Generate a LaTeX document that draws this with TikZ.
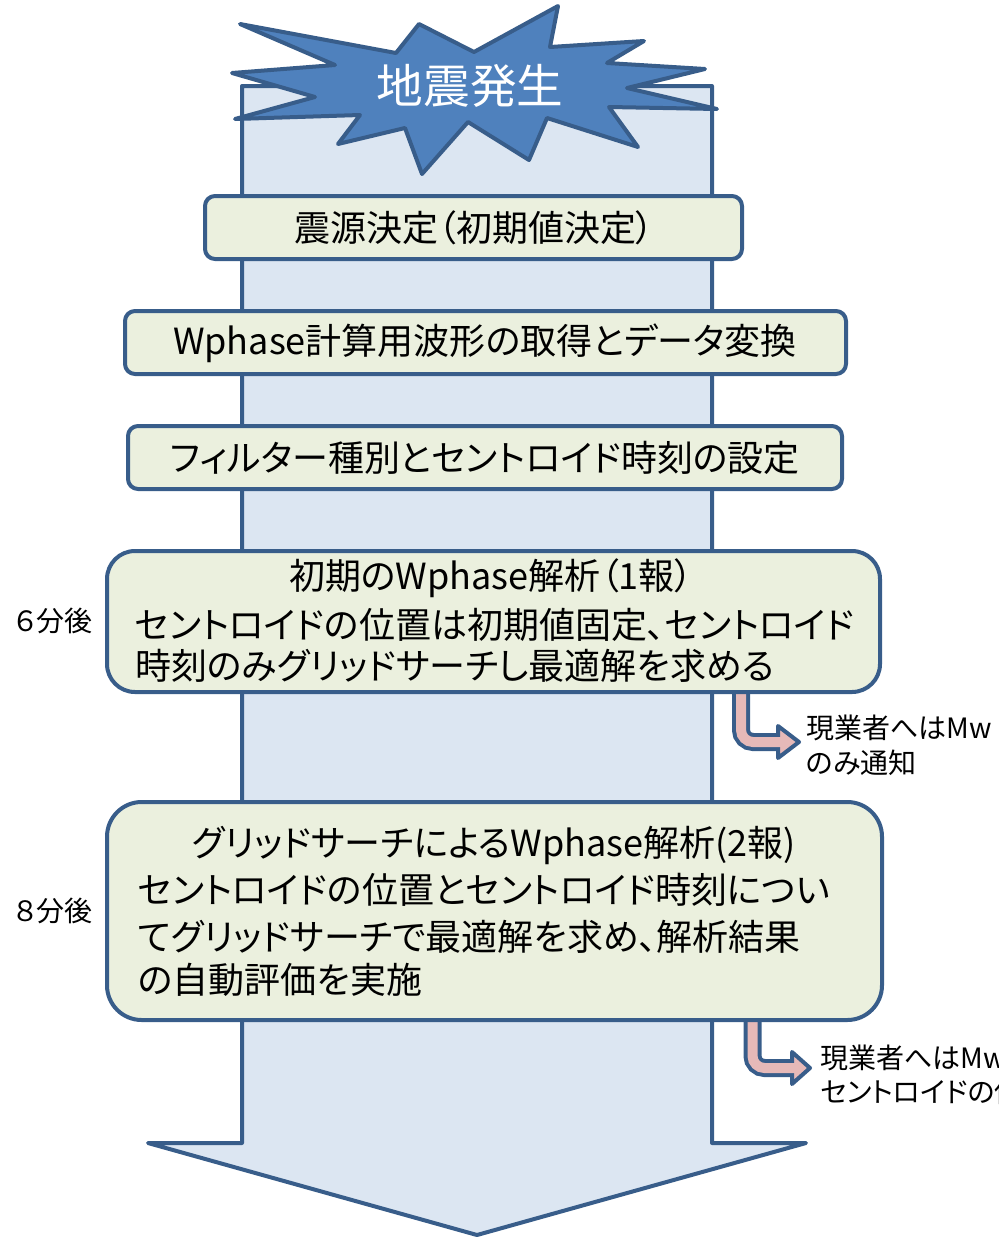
\documentclass[tikz,border=0pt]{standalone}
\usepackage{fontspec}
\setmainfont[RawFeature=+palt]{Noto Sans CJK JP}
\newfontfamily\plainjp{Noto Sans CJK JP}
\definecolor{bluedark}{RGB}{56,93,138}
\definecolor{arrowfill}{RGB}{220,230,242}
\definecolor{starfill}{RGB}{79,129,189}
\definecolor{boxfill}{RGB}{235,240,222}
\definecolor{pinkband}{RGB}{230,185,184}
\begin{document}
\begin{tikzpicture}[x=0.75pt,y=-0.75pt,
  bord/.style={draw=bluedark, line width=3pt, line join=round},
  stepbox/.style={bord, fill=boxfill, rounded corners=7.5pt, inner sep=0pt},
  txt/.style={inner sep=0pt, font=\fontsize{27pt}{32pt}\selectfont},
  sidetxt/.style={inner sep=0pt, anchor=west, font=\fontsize{21pt}{25pt}\selectfont},
  band/.style={line width=13.5pt, draw=bluedark, rounded corners=9pt},
  bandin/.style={line width=7.5pt, draw=pinkband, rounded corners=9pt}]
\useasboundingbox (0,0) rectangle (999,1239);
\clip (0,0) rectangle (999,1239);
% big arrow
\draw[bord, fill=arrowfill] (242,86) -- (712,86) -- (712,1143) -- (806,1143) -- (477,1235) -- (148,1143) -- (242,1143) -- cycle;
% star
\draw[bord, fill=starfill] (240,24) -- (396,53) -- (419,24) -- (474,52) -- (558,6) -- (550,47) -- (644,41) -- (607,63) -- (705,69) -- (627,88) -- (717,109) -- (609,107) -- (638,147) -- (547,118) -- (529,160) -- (468,122) -- (422,174) -- (405,128) -- (338,144) -- (360,115) -- (235,119) -- (315,97) -- (232,73) -- (335,65) -- cycle;
\node[inner sep=0pt, text=white, font=\plainjp\fontsize{35pt}{40pt}\selectfont] (star) at (470,86) {地震発生};
% bent arrows
\coordinate (b1s) at (741,680);
\coordinate (b1c) at (741,742);
\coordinate (b1e) at (778,742);
\draw[band] (b1s) -- (b1c) -- (b1e);
\draw[bord, fill=pinkband] (778,726) -- (799,742) -- (778,758) -- cycle;
\draw[bandin] (b1s) -- (b1c) -- (782,742);
\coordinate (b2s) at (752.5,1005);
\coordinate (b2c) at (752.5,1068);
\coordinate (b2e) at (792,1068);
\draw[band] (b2s) -- (b2c) -- (b2e);
\draw[bord, fill=pinkband] (792,1052) -- (810,1068) -- (792,1084) -- cycle;
\draw[bandin] (b2s) -- (b2c) -- (796,1068);
% boxes
\node[stepbox, minimum width=402.75pt, minimum height=47.25pt] (box1) at (473.5,227.5) {};
\node[txt] (t1) at (474,228) {震源決定（初期値決定）};
\node[stepbox, minimum width=540.75pt, minimum height=47.25pt] (box2) at (485.5,342.5) {};
\node[txt] (t2) at (485,343) {Wphase計算用波形の取得とデータ変換};
\node[stepbox, minimum width=535.5pt, minimum height=47.25pt] (box3) at (485,457.5) {};
\node[txt] (t3) at (485,458) {フィルター種別とセントロイド時刻の設定};
\node[stepbox, rounded corners=21pt, minimum width=579.75pt, minimum height=105.75pt] (box4) at (493.5,621.5) {};
\node[txt] (t4a) at (491,578) {初期のWphase解析（1報）};
\node[txt, anchor=west] (t4b) at (135,625) {セントロイドの位置は初期値固定、セントロイド};
\node[txt, anchor=west] (t4c) at (135,666) {時刻のみグリッドサーチし最適解を求める};
\node[stepbox, rounded corners=26pt, minimum width=581.25pt, minimum height=163.5pt] (box5) at (494.5,911) {};
\node[txt] (t5a) at (494,845) {グリッドサーチによるWphase解析(2報)};
\node[txt, anchor=west] (t5b) at (138,890) {セントロイドの位置とセントロイド時刻につい};
\node[txt, anchor=west] (t5c) at (138,937) {てグリッドサーチで最適解を求め、解析結果};
\node[txt, anchor=west] (t5d) at (138,980) {の自動評価を実施};
% side labels
\node[sidetxt] (s6) at (15,621) {６分後};
\node[sidetxt] (s8) at (15,911) {８分後};
\node[sidetxt] (n1a) at (806,728) {現業者へはMw};
\node[sidetxt] (n1b) at (806,763) {のみ通知};
\node[sidetxt] (n2a) at (820,1058) {現業者へはMw};
\node[sidetxt] (n2b) at (820,1092) {セントロイドの位置};
\end{tikzpicture}
\end{document}
